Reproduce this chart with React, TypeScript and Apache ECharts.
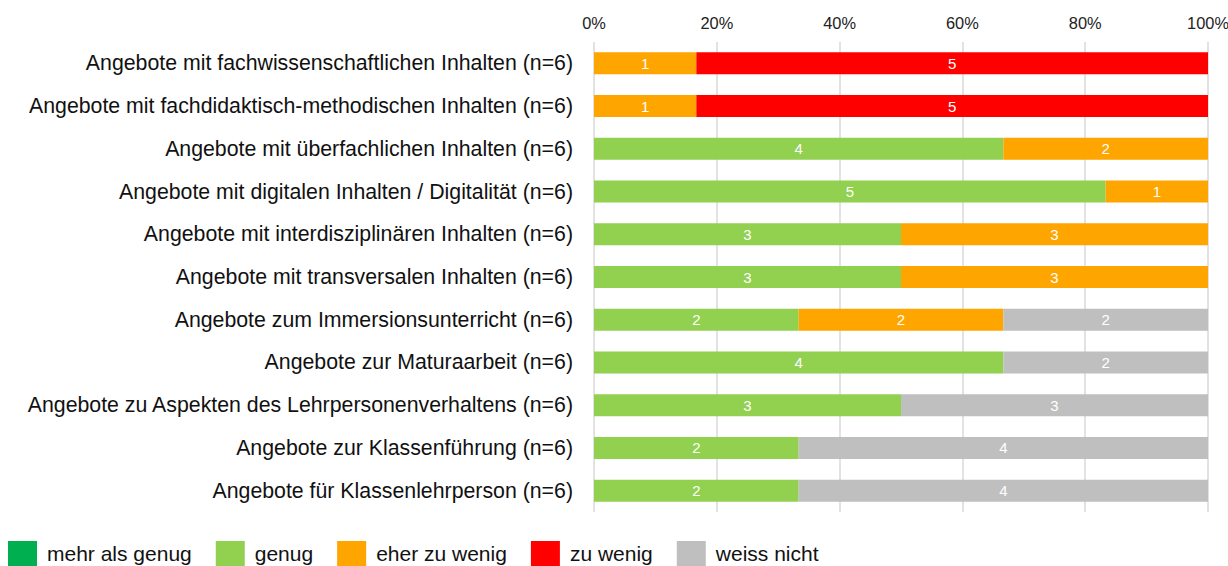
import React, { useEffect, useRef } from "react";
import * as echarts from "echarts";

const categories = [
  "Angebote mit fachwissenschaftlichen Inhalten (n=6)",
  "Angebote mit fachdidaktisch-methodischen Inhalten (n=6)",
  "Angebote mit überfachlichen Inhalten (n=6)",
  "Angebote mit digitalen Inhalten / Digitalität (n=6)",
  "Angebote mit interdisziplinären Inhalten (n=6)",
  "Angebote mit transversalen Inhalten (n=6)",
  "Angebote zum Immersionsunterricht (n=6)",
  "Angebote zur Maturaarbeit (n=6)",
  "Angebote zu Aspekten des Lehrpersonenverhaltens (n=6)",
  "Angebote zur Klassenführung (n=6)",
  "Angebote für Klassenlehrperson (n=6)",
];

const mehrAlsGenug = [0, 0, 0, 0, 0, 0, 0, 0, 0, 0, 0];
const genug = [0, 0, 4, 5, 3, 3, 2, 4, 3, 2, 2];
const eherZuWenig = [1, 1, 2, 1, 3, 3, 2, 0, 0, 0, 0];
const zuWenig = [5, 5, 0, 0, 0, 0, 0, 0, 0, 0, 0];
const weissNicht = [0, 0, 0, 0, 0, 0, 2, 2, 3, 4, 4];
const totals = [6, 6, 6, 6, 6, 6, 6, 6, 6, 6, 6];

const seriesNames = ["mehr als genug", "genug", "eher zu wenig", "zu wenig", "weiss nicht"];
const seriesData = [mehrAlsGenug, genug, eherZuWenig, zuWenig, weissNicht];
const colors = ["#00B050", "#92D050", "#FFA500", "#FF0000", "#BFBFBF"];

const FONT = "Liberation Sans, Arial, sans-serif";

export default function App() {
  const ref = useRef<HTMLDivElement>(null);
  useEffect(() => {
    const chart = echarts.init(ref.current!, null, { renderer: "svg" });
    chart.setOption({
      animation: false,
      textStyle: { fontFamily: FONT },
      color: colors,
      legend: {
        left: 8,
        top: 541,
        padding: 0,
        itemWidth: 29,
        itemHeight: 25,
        itemGap: 24,
        icon: "rect",
        textStyle: { fontSize: 21, color: "#111", fontFamily: FONT, padding: [0, 0, 0, 5] },
        data: seriesNames,
      },
      grid: { left: 594, right: 20, top: 42, bottom: 54, containLabel: false, outerBoundsMode: "none" },
      xAxis: {
        type: "value",
        position: "top",
        min: 0,
        max: 100,
        interval: 20,
        axisLine: { show: false },
        axisTick: { show: false },
        axisLabel: { formatter: "{value}%", fontSize: 16.4, color: "#222", margin: 11 },
        splitLine: { show: true, lineStyle: { color: "#D9D9D9", width: 1.5 } },
      },
      yAxis: {
        type: "category",
        inverse: true,
        data: categories,
        axisLine: { show: false },
        axisTick: { show: false },
        axisLabel: { fontSize: 21.3, color: "#111", margin: 21 },
      },
      series: seriesNames.map((name, si) => ({
        name,
        type: "bar",
        stack: "total",
        barWidth: 22,
        data: seriesData[si].map((c, i) => ({ value: (c / totals[i]) * 100, count: c })),
        label: {
          show: true,
          color: "#fff",
          fontSize: 15,
          formatter: (p: any) => (p.data.count > 0 ? String(p.data.count) : ""),
        },
      })),
    });
    return () => chart.dispose();
  }, []);
  return (
    <div
      ref={ref}
      style={{ position: "fixed", left: 0, top: 0, width: 1228, height: 566, background: "#fff" }}
    />
  );
}
